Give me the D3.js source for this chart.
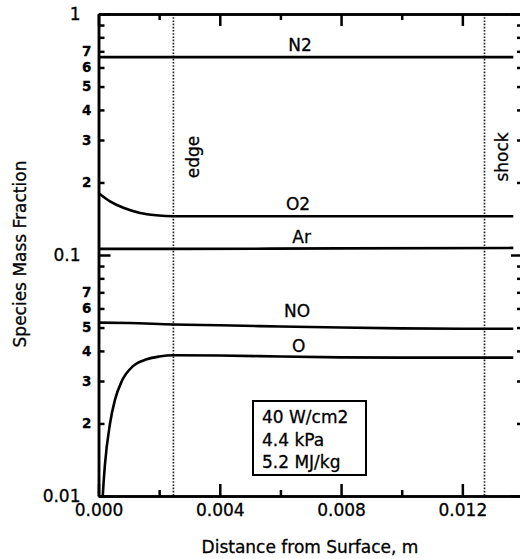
<!DOCTYPE html>
<html>
<head>
<meta charset="utf-8">
<script src="https://cdn.jsdelivr.net/npm/d3@7"></script>
<style>
  body { margin: 0; background: #fff; }
  svg { display: block; font-family: "DejaVu Sans", sans-serif; }
  svg text { stroke: #000; stroke-width: 0.3px; }
  .frame path.domain { stroke: #000; stroke-width: 2.5; }
  .tick line { stroke: #000; stroke-width: 2.5; }
  .tick text { fill: #000; }
</style>
</head>
<body>
<svg id="chart" width="520" height="559"></svg>
<script>
// species mass fraction vs distance (m)
const distN2 = [0, 0.00247, 0.008, 0.01368];
const valN2 = [0.662, 0.662, 0.662, 0.662];

const distO2 = [0, 0.00038, 0.00082, 0.00137, 0.0019, 0.00247, 0.004, 0.008, 0.01368];
const valO2 = [0.181, 0.167, 0.157, 0.1495, 0.1462, 0.1448, 0.1448, 0.1448, 0.1448];

const distAr = [0, 0.00247, 0.008, 0.01368];
const valAr = [0.106, 0.106, 0.1065, 0.107];

const distNO = [0, 0.001, 0.00247, 0.004, 0.006, 0.008, 0.010, 0.012, 0.01368];
const valNO = [0.0524, 0.0522, 0.0515, 0.0511, 0.0505, 0.0500, 0.0496, 0.0494, 0.0494];

const distO = [0.0001, 0.00014, 0.00021, 0.00038, 0.00054, 0.00077, 0.00114, 0.00159, 0.0020, 0.00247, 0.004, 0.006, 0.008, 0.010, 0.012, 0.01368];
const valO = [0.008, 0.01, 0.0134, 0.02, 0.025, 0.03, 0.0346, 0.0369, 0.0379, 0.0384, 0.0383, 0.0379, 0.0376, 0.0375, 0.0375, 0.0375];

const speciesNames = ["N2", "O2", "Ar", "NO", "O"];
const labelDist = [0.00665, 0.00658, 0.0067, 0.00655, 0.0066];
const labelVal = [0.702, 0.154, 0.112, 0.0553, 0.0396];

const xMajor = [0, 0.004, 0.008, 0.012];
const xMinor = [0.002, 0.006, 0.010, 0.014];
const yMajor = [1, 0.1, 0.01];
const yMinor = [0.2, 0.3, 0.4, 0.5, 0.6, 0.7, 0.8, 0.9, 0.02, 0.03, 0.04, 0.05, 0.06, 0.07, 0.08, 0.09];
const yMinorLabeled = [2, 3, 4, 5, 6, 7];

const markers = [{ name: "edge", dist: 0.00247 }, { name: "shock", dist: 0.01273 }];
const conditions = ["40 W/cm2", "4.4 kPa", "5.2 MJ/kg"];

const svg = d3.select("#chart");
const plotLeft = 98.5, plotRight = 523, plotTop = 14, plotBottom = 496;

const x = d3.scaleLinear().domain([0, 0.014]).range([plotLeft, plotRight]);
const y = d3.scaleLog().domain([0.01, 1]).range([plotBottom, plotTop]);

svg.append("clipPath").attr("id", "plot-clip")
  .append("rect").attr("x", plotLeft).attr("y", plotTop)
  .attr("width", plotRight - plotLeft).attr("height", plotBottom - plotTop);

// dotted markers
markers.forEach((m) => {
  svg.append("line")
    .attr("x1", x(m.dist)).attr("x2", x(m.dist))
    .attr("y1", plotTop).attr("y2", plotBottom)
    .attr("stroke", "#222").attr("stroke-width", 1.7).attr("stroke-dasharray", "1.6,1.6");
});
svg.append("text").attr("transform", `translate(${x(0.00247) + 26},157) rotate(-90)`)
  .attr("text-anchor", "middle").attr("font-size", 17).text("edge");
svg.append("text").attr("transform", `translate(${x(0.01273) + 24},157) rotate(-90)`)
  .attr("text-anchor", "middle").attr("font-size", 17).text("shock");

// data lines
const series = [
  { d: distN2, v: valN2 },
  { d: distO2, v: valO2 },
  { d: distAr, v: valAr },
  { d: distNO, v: valNO },
  { d: distO, v: valO },
];
const line = d3.line().x((p) => x(p[0])).y((p) => y(p[1])).curve(d3.curveMonotoneX);
const lines = svg.append("g").attr("clip-path", "url(#plot-clip)");
series.forEach((s) => {
  lines.append("path")
    .attr("d", line(d3.zip(s.d, s.v)))
    .attr("fill", "none").attr("stroke", "#000").attr("stroke-width", 2.6);
});

speciesNames.forEach((n, i) => {
  svg.append("text").attr("x", x(labelDist[i])).attr("y", y(labelVal[i]))
    .attr("text-anchor", "middle").attr("font-size", 17).text(n);
});

// axes
const fmtX = d3.format(".3f");
svg.append("g").attr("class", "frame").attr("transform", `translate(0,${plotBottom})`)
  .call(d3.axisBottom(x).tickValues(xMajor).tickSizeInner(-12).tickSizeOuter(0).tickPadding(8).tickFormat(fmtX))
  .call((g) => g.selectAll("text").attr("font-size", 17).attr("font-family", "DejaVu Sans"));
svg.append("g").attr("class", "frame").attr("transform", `translate(0,${plotBottom})`)
  .call(d3.axisBottom(x).tickValues(xMinor).tickSizeInner(-6).tickSizeOuter(0).tickFormat(""));
svg.append("g").attr("class", "frame").attr("transform", `translate(0,${plotTop})`)
  .call(d3.axisTop(x).tickValues(xMajor).tickSizeInner(-12).tickSizeOuter(0).tickFormat(""));
svg.append("g").attr("class", "frame").attr("transform", `translate(0,${plotTop})`)
  .call(d3.axisTop(x).tickValues(xMinor).tickSizeInner(-6).tickSizeOuter(0).tickFormat(""));

svg.append("g").attr("class", "frame").attr("transform", `translate(${plotLeft},0)`)
  .call(d3.axisLeft(y).tickValues(yMajor).tickSizeInner(-12).tickSizeOuter(0).tickPadding(18).tickFormat((d) => String(d)))
  .call((g) => g.selectAll("text").attr("font-size", 17).attr("font-family", "DejaVu Sans"));
svg.append("g").attr("class", "frame").attr("transform", `translate(${plotLeft},0)`)
  .call(d3.axisLeft(y).tickValues(yMinor).tickSizeInner(-6).tickSizeOuter(0).tickPadding(7)
    .tickFormat((d) => {
      const m = Math.round(d / Math.pow(10, Math.floor(Math.log10(d) + 1e-9)));
      return yMinorLabeled.includes(m) ? String(m) : "";
    }))
  .call((g) => g.selectAll("text").attr("font-size", 13.5).attr("font-weight", "bold").attr("font-family", "DejaVu Sans"));
svg.append("g").attr("class", "frame").attr("transform", `translate(${plotRight},0)`)
  .call(d3.axisRight(y).tickValues(yMajor).tickSizeInner(-12).tickSizeOuter(0).tickFormat(""));
svg.append("g").attr("class", "frame").attr("transform", `translate(${plotRight},0)`)
  .call(d3.axisRight(y).tickValues(yMinor).tickSizeInner(-6).tickSizeOuter(0).tickFormat(""));

// axis titles
svg.append("text").attr("x", 310).attr("y", 553).attr("text-anchor", "middle")
  .attr("font-size", 17).text("Distance from Surface, m");
svg.append("text").attr("transform", "translate(26,254) rotate(-90)").attr("text-anchor", "middle")
  .attr("font-size", 17).text("Species Mass Fraction");

// conditions box
svg.append("rect").attr("x", 253).attr("y", 401).attr("width", 113).attr("height", 74)
  .attr("fill", "#fff").attr("stroke", "#000").attr("stroke-width", 2);
conditions.forEach((c, i) => {
  svg.append("text").attr("x", 262).attr("y", 423 + i * 22.5).attr("font-size", 17).text(c);
});
</script>
</body>
</html>
